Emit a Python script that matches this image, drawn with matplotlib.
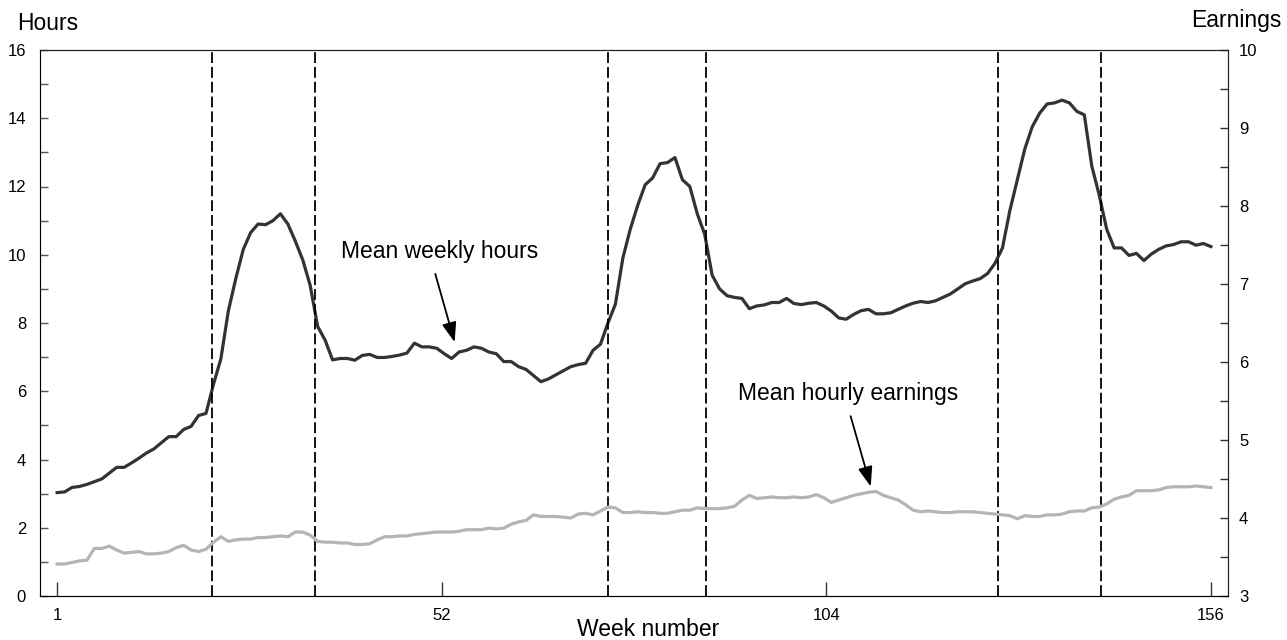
import numpy as np
import matplotlib
matplotlib.use("Agg")
import matplotlib.pyplot as plt
from matplotlib.ticker import MultipleLocator

plt.rcParams['font.family'] = ['Liberation Sans', 'DejaVu Sans']

# weekly data, weeks 1..156
weeks = np.arange(1, 157)

mean_weekly_hours = [
    3.03, 3.05, 3.18, 3.21, 3.27, 3.35, 3.43, 3.60, 3.77, 3.77,
    3.90, 4.04, 4.19, 4.31, 4.49, 4.67, 4.67, 4.88, 4.97, 5.29,
    5.35, 6.20, 6.95, 8.35, 9.30, 10.15, 10.65, 10.90, 10.88, 11.00,
    11.20, 10.90, 10.40, 9.85, 9.10, 7.90, 7.50, 6.92, 6.96, 6.96,
    6.91, 7.05, 7.08, 6.99, 6.99, 7.02, 7.06, 7.12, 7.41, 7.30,
    7.30, 7.26, 7.10, 6.96, 7.15, 7.20, 7.30, 7.26, 7.15, 7.10,
    6.87, 6.87, 6.72, 6.64, 6.46, 6.28, 6.36, 6.48, 6.60, 6.72,
    6.78, 6.82, 7.20, 7.38, 8.00, 8.55, 9.90, 10.75, 11.45, 12.05,
    12.25, 12.67, 12.70, 12.85, 12.20, 12.00, 11.20, 10.60, 9.40, 9.00,
    8.80, 8.75, 8.72, 8.42, 8.50, 8.53, 8.60, 8.60, 8.72, 8.57,
    8.54, 8.58, 8.60, 8.50, 8.35, 8.15, 8.11, 8.25, 8.36, 8.40,
    8.27, 8.27, 8.30, 8.40, 8.50, 8.58, 8.63, 8.60, 8.65, 8.75,
    8.85, 9.00, 9.15, 9.23, 9.30, 9.45, 9.75, 10.20, 11.30, 12.20,
    13.10, 13.75, 14.15, 14.42, 14.45, 14.53, 14.45, 14.20, 14.10, 12.60,
    11.75, 10.75, 10.20, 10.20, 9.98, 10.04, 9.83, 10.02, 10.16, 10.26,
    10.30, 10.38, 10.38, 10.28, 10.33, 10.24,
]

mean_hourly_earnings = [
    3.41, 3.41, 3.43, 3.45, 3.46, 3.61, 3.61, 3.64, 3.59, 3.55,
    3.56, 3.57, 3.54, 3.54, 3.55, 3.57, 3.62, 3.65, 3.59, 3.57,
    3.60, 3.69, 3.76, 3.70, 3.72, 3.73, 3.73, 3.75, 3.75, 3.76,
    3.77, 3.76, 3.82, 3.82, 3.78, 3.70, 3.69, 3.69, 3.68, 3.68,
    3.66, 3.66, 3.67, 3.72, 3.76, 3.76, 3.77, 3.77, 3.79, 3.80,
    3.81, 3.82, 3.82, 3.82, 3.83, 3.85, 3.85, 3.85, 3.87, 3.86,
    3.87, 3.92, 3.95, 3.97, 4.04, 4.02, 4.02, 4.02, 4.01, 4.00,
    4.05, 4.06, 4.04, 4.09, 4.14, 4.13, 4.07, 4.07, 4.08, 4.07,
    4.07, 4.06, 4.06, 4.08, 4.10, 4.10, 4.13, 4.12, 4.12, 4.12,
    4.13, 4.15, 4.23, 4.29, 4.25, 4.26, 4.27, 4.26, 4.26, 4.27,
    4.26, 4.27, 4.30, 4.26, 4.20, 4.23, 4.26, 4.29, 4.31, 4.33,
    4.34, 4.29, 4.26, 4.23, 4.17, 4.10, 4.08, 4.09, 4.08, 4.07,
    4.07, 4.08, 4.08, 4.08, 4.07, 4.06, 4.05, 4.04, 4.03, 3.99,
    4.03, 4.02, 4.02, 4.04, 4.04, 4.05, 4.08, 4.09, 4.09, 4.13,
    4.14, 4.18, 4.24, 4.27, 4.29, 4.35, 4.35, 4.35, 4.36, 4.39,
    4.40, 4.40, 4.40, 4.41, 4.40, 4.39,
]

# dashed period boundaries (week positions)
boundaries = [21.8, 35.7, 75.0, 88.2, 127.4, 141.3]

x_tick_labels = ['1', '52', '104', '156']

W, H = 1287, 640
fig = plt.figure(figsize=(W / 100, H / 100), dpi=100)
ax = fig.add_axes([40 / W, 1 - 596 / H, (1228 - 40) / W, (596 - 50) / H])
ax2 = ax.twinx()

ax.plot(weeks, mean_weekly_hours, color='#333333', lw=2.3, zorder=3)
ax2.plot(weeks, mean_hourly_earnings, color='#b4b4b4', lw=2.3, zorder=3)

for b in boundaries:
    ax.axvline(b, color='black', lw=1.3, linestyle=(0, (6, 2.2)), zorder=4)

ax.set_xlim(-1.3, 158.3)
ax.set_ylim(0, 16)
ax2.set_ylim(3, 10)

ax.set_xticks(np.linspace(1, 156, len(x_tick_labels)))
ax.set_xticklabels(x_tick_labels)
ax.yaxis.set_major_locator(MultipleLocator(2))
ax.yaxis.set_minor_locator(MultipleLocator(1))
ax2.yaxis.set_major_locator(MultipleLocator(1))
ax2.yaxis.set_minor_locator(MultipleLocator(0.5))

ax.tick_params(axis='x', direction='in', length=10, width=1, pad=9,
               labelsize=12, color='#333333')
ax.tick_params(axis='y', which='both', direction='in', length=6, width=1,
               pad=10, labelsize=12, color='#555555')
ax2.tick_params(axis='y', which='both', direction='in', length=6, width=1,
                pad=8, labelsize=12, color='#333333')

for s in ['left', 'bottom']:
    ax.spines[s].set_color('#555555')
for a in (ax, ax2):
    a.spines['top'].set_color('#222222')
    a.spines['right'].set_color('#222222')

fig.text(48 / W, 1 - 23 / H, 'Hours', ha='center', va='center', fontsize=16.5)
fig.text(1236 / W, 1 - 20 / H, 'Earnings', ha='center', va='center', fontsize=16.5)
fig.text(648 / W, 1 - 630 / H, 'Week number', ha='center', va='center', fontsize=16.5)

arrow = dict(arrowstyle='-|>,head_length=0.6,head_width=0.22', color='black',
             lw=1.3, shrinkA=0, shrinkB=0, mutation_scale=20)
ax.text(52.4, 10.1, 'Mean weekly hours', ha='center', va='center', fontsize=16.5)
ax.annotate('', xy=(54.4, 7.44), xytext=(51.8, 9.44), arrowprops=arrow)
ax.text(107.2, 5.92, 'Mean hourly earnings', ha='center', va='center', fontsize=16.5)
ax.annotate('', xy=(110.3, 3.21), xytext=(107.6, 5.27), arrowprops=arrow)

fig.savefig('out.png', dpi=100)
